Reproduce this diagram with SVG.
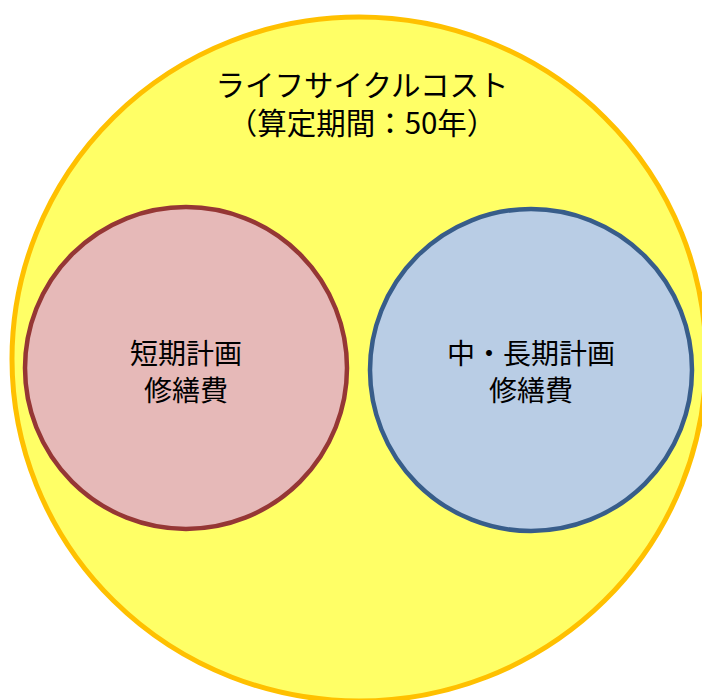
<svg xmlns="http://www.w3.org/2000/svg" width="702" height="700" viewBox="0 0 702 700">
<style>
  .t { font-family: "Noto Sans CJK JP", "Noto Sans", sans-serif; font-size: 28px; fill: #000; text-anchor: middle; }
  .h { font-size: 29.5px; }
</style>
<rect width="702" height="700" fill="#fff"/>
<g id="lifecycle">
  <ellipse cx="359" cy="359" rx="347" ry="342" fill="#FFFF66" stroke="#FFC000" stroke-width="5"/>
  <text class="t h" x="362" y="96">ライフサイクルコスト</text>
  <text class="t h" x="362" y="134">（算定期間：50年）</text>
</g>
<g id="short">
  <circle cx="186" cy="368" r="161" fill="#E6B9B8" stroke="#953735" stroke-width="4.5"/>
  <text class="t" x="186" y="364">短期計画</text>
  <text class="t" x="186" y="401">修繕費</text>
</g>
<g id="long">
  <circle cx="531" cy="370" r="161" fill="#B9CDE5" stroke="#385D8A" stroke-width="4.5"/>
  <text class="t" x="531" y="364">中・長期計画</text>
  <text class="t" x="531" y="401">修繕費</text>
</g>
<g id="connectors"></g>
</svg>
